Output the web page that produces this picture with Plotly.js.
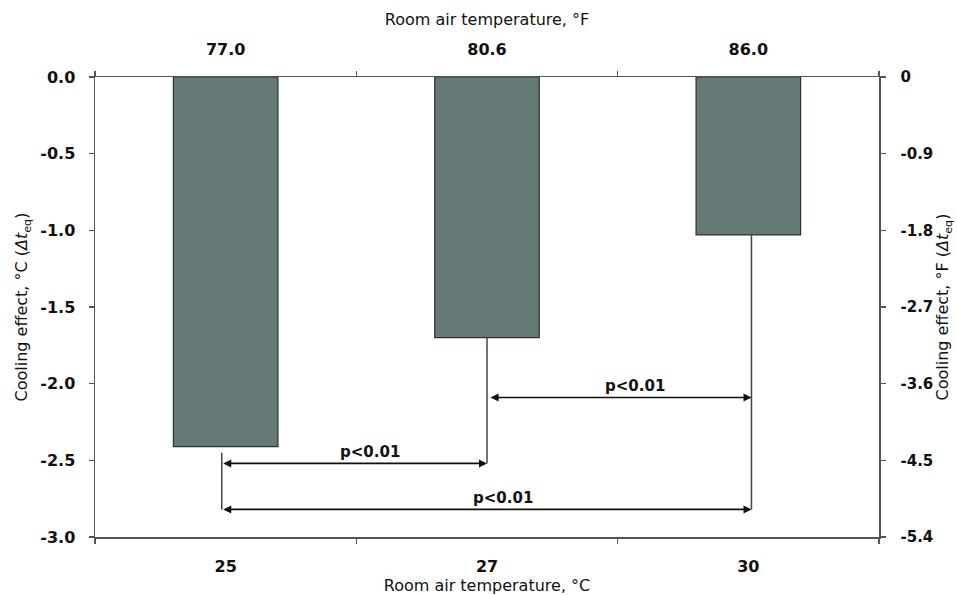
<!DOCTYPE html>
<html>
<head>
<meta charset="utf-8">
<script src="https://cdn.plot.ly/plotly-3.0.1.min.js"></script>
<style>html,body{margin:0;padding:0;background:#fff;}#chart{width:957px;height:595px;}</style>
</head>
<body>
<div id="chart"></div>
<script>
// Data
const tempC = ["25", "27", "30"];
const tempF = ["77.0", "80.6", "86.0"];
const coolingC = [-2.41, -1.70, -1.03];
const coolingF = coolingC.map(v => v * 1.8);
const leftTickVals = [0, -0.5, -1.0, -1.5, -2.0, -2.5, -3.0];
const leftTickText = ["0.0", "-0.5", "-1.0", "-1.5", "-2.0", "-2.5", "-3.0"];
const rightTickVals = [0, -0.9, -1.8, -2.7, -3.6, -4.5, -5.4];
const rightTickText = ["0", "-0.9", "-1.8", "-2.7", "-3.6", "-4.5", "-5.4"];
// significance comparisons: [from index, to index, level (°C), label]
const compFrom = [1, 0, 0];
const compTo = [2, 1, 2];
const compLevel = [-2.09, -2.52, -2.82];
const compLabel = ["p<0.01", "p<0.01", "p<0.01"];
const bracketX = [-0.015, 1.0, 2.012];

const FONT = "DejaVu Sans, Liberation Sans, Arial, sans-serif";
const axisColor = "#555555";

const traces = [
  {
    type: "bar", x: tempC, y: coolingC, xaxis: "x", yaxis: "y",
    width: 0.4,
    marker: {color: "#657a76", line: {color: "#2a3331", width: 1.2}},
    hoverinfo: "skip", showlegend: false
  },
  {
    type: "scatter", mode: "markers", x: tempF, y: coolingC, xaxis: "x2", yaxis: "y",
    marker: {opacity: 0}, hoverinfo: "skip", showlegend: false
  },
  {
    type: "scatter", mode: "markers", x: tempC, y: coolingF, xaxis: "x", yaxis: "y2",
    marker: {opacity: 0}, hoverinfo: "skip", showlegend: false
  }
];

// vertical bracket lines from each bar down to its lowest comparison level
const shapes = [];
for (let i = 0; i < coolingC.length; i++) {
  let low = 0;
  for (let k = 0; k < compLevel.length; k++) {
    if (compFrom[k] === i || compTo[k] === i) low = Math.min(low, compLevel[k]);
  }
  shapes.push({
    type: "line", xref: "x", yref: "y",
    x0: bracketX[i], x1: bracketX[i], y0: coolingC[i] - (i === 0 ? 0.04 : 0), y1: low,
    line: {color: "#444", width: 1.5}
  });
}

const annotations = [];
for (let k = 0; k < compLevel.length; k++) {
  const a = bracketX[compFrom[k]], b = bracketX[compTo[k]];
  annotations.push({
    xref: "x", yref: "y", axref: "x", ayref: "y",
    x: b, y: compLevel[k], ax: a + (compFrom[k] === 1 ? 0.008 : 0), ay: compLevel[k],
    showarrow: true, arrowside: "end+start", arrowhead: 2, startarrowhead: 2,
    arrowsize: 1, startarrowsize: 1, arrowwidth: 1.6, arrowcolor: "#111", text: ""
  });
  annotations.push({
    xref: "x", yref: "y", x: (a + b) / 2, y: compLevel[k],
    text: compLabel[k], showarrow: false, yanchor: "bottom", xshift: 16, yshift: 0,
    font: {family: FONT, size: 15, color: "#111", weight: "bold"}
  });
}

const tickFont = {family: FONT, size: 16, color: "#111", weight: "bold"};
const rightTickFont = {family: FONT, size: 15, color: "#111", weight: "bold"};
const titleFont = {family: FONT, size: 16, color: "#111"};

const layout = {
  width: 957, height: 595,
  margin: {l: 95, r: 78, t: 77, b: 58},
  paper_bgcolor: "#fff", plot_bgcolor: "#fff",
  showlegend: false,
  xaxis: {
    type: "category", range: [-0.5, 2.5], categoryorder: "array", categoryarray: tempC,
    tickson: "boundaries", ticks: "outside", ticklen: 5, tickcolor: axisColor, tickwidth: 1.5,
    showline: true, linecolor: axisColor, linewidth: 1.5, showgrid: false, zeroline: false,
    tickfont: tickFont, ticklabelstandoff: 14, automargin: false,
    title: {text: "Room air temperature, °C", font: titleFont, standoff: 0}
  },
  xaxis2: {
    type: "category", overlaying: "x", side: "top", range: [-0.5, 2.5],
    categoryorder: "array", categoryarray: tempF,
    tickson: "boundaries", ticks: "outside", ticklen: 5, tickcolor: axisColor, tickwidth: 1.5,
    showline: true, linecolor: axisColor, linewidth: 1.5, showgrid: false, zeroline: false,
    tickfont: tickFont, ticklabelstandoff: 14, automargin: false,
    title: {text: "Room air temperature, °F", font: titleFont, standoff: 10}
  },
  yaxis: {
    range: [-3, 0], tickmode: "array", tickvals: leftTickVals, ticktext: leftTickText,
    ticks: "outside", ticklen: 5, tickcolor: axisColor, tickwidth: 1.5,
    showline: true, linecolor: axisColor, linewidth: 1.5, showgrid: false, zeroline: false,
    tickfont: tickFont, ticklabelstandoff: 10, automargin: false,
    title: {text: "Cooling effect, °C (<i>Δt</i><sub>eq</sub>)", font: titleFont, standoff: 8}
  },
  yaxis2: {
    overlaying: "y", side: "right", range: [-5.4, 0],
    tickmode: "array", tickvals: rightTickVals, ticktext: rightTickText,
    ticks: "outside", ticklen: 5, tickcolor: axisColor, tickwidth: 1.5,
    showline: true, linecolor: axisColor, linewidth: 1.5, showgrid: false, zeroline: false,
    tickfont: rightTickFont, ticklabelstandoff: 12, automargin: false,
    title: {text: "Cooling effect, °F (<i>Δt</i><sub>eq</sub>)", font: titleFont, standoff: 3}
  },
  shapes: shapes,
  annotations: annotations
};

Plotly.newPlot("chart", traces, layout, {displayModeBar: false, staticPlot: true});
</script>
</body>
</html>
